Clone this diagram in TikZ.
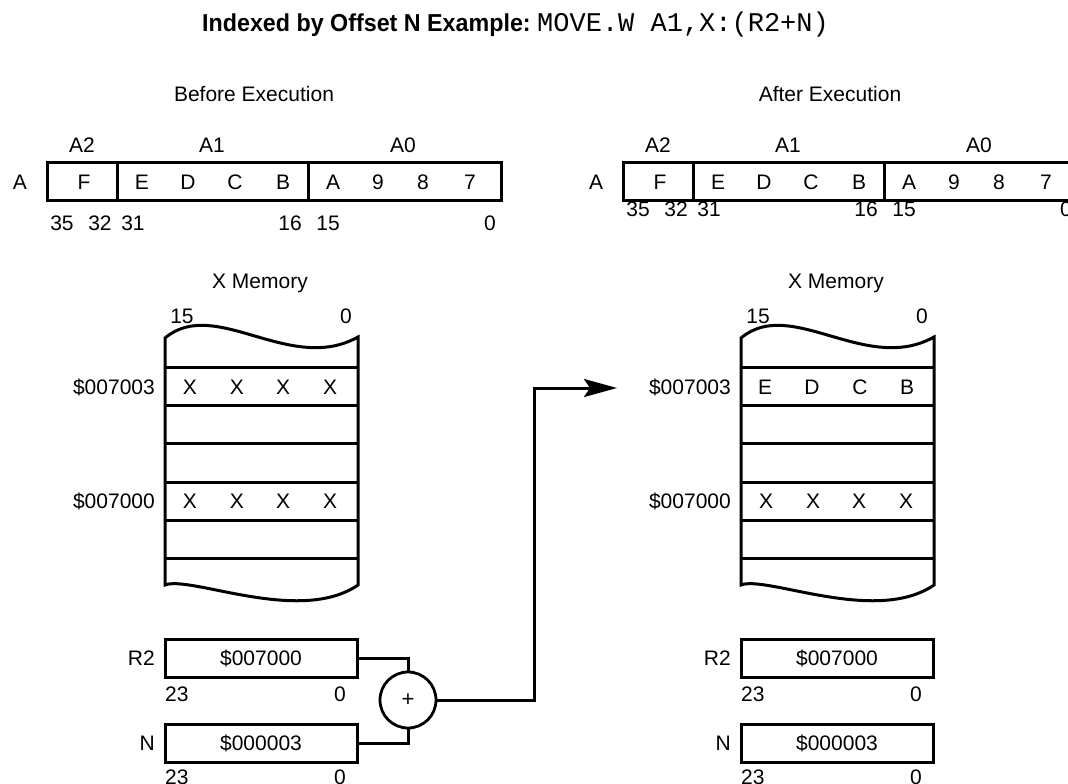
\documentclass[tikz,border=0pt]{standalone}
\usepackage{fontspec}
\setmainfont{Liberation Sans}
\newfontfamily\titlefont[FakeStretch=0.95]{Liberation Sans}
\newfontfamily\codefont{Liberation Mono}
\usetikzlibrary{arrows.meta}
\begin{document}
\begin{tikzpicture}[x=1pt,y=-1pt,
  lbl/.style={inner sep=0pt, font=\fontsize{21}{25}\selectfont},
  ln/.style={line width=3pt},
  regbox/.style={draw, line width=3pt, inner sep=0pt, minimum width=192pt, minimum height=38pt, font=\fontsize{21}{25}\selectfont},
  sumnode/.style={draw, circle, line width=2.8pt, minimum size=56pt, inner sep=0pt, font=\fontsize{22}{24}\selectfont},
  wire/.style={line width=3pt},
  arr/.style={line width=3pt, -{Stealth[length=33pt, width=18pt, inset=6pt]}}]
\path[use as bounding box] (0,0) rectangle (1068,784);
\clip (0,0) rectangle (1068,784);
% title
\node[inner sep=0pt, anchor=base west, font=\titlefont\bfseries\fontsize{24.5}{28}\selectfont] (title) at (202,32) {Indexed by Offset N Example:};
\node[inner sep=0pt, anchor=base west, font=\codefont\fontsize{27}{30}\selectfont] (code) at (537,32) {MOVE.W A1,X:(R2+N)};
\node[lbl] (before) at (254,94) {Before Execution};
\node[lbl] (after) at (830,94) {After Execution};

% ---------- registers, memories, R2 and N ----------
\foreach \dx/\by/\s in {0/223/L, 576/209/R}{
  \begin{scope}[xshift=\dx pt]
    \draw[ln] (47,162) rectangle (501,200);
    \draw[ln] (117,162) -- (117,200);
    \draw[ln] (308,162) -- (308,200);
    \node[lbl] (rA2\s) at (82,145) {A2};
    \node[lbl] (rA1\s) at (212,145) {A1};
    \node[lbl] (rA0\s) at (403,145) {A0};
    \node[lbl] (rA\s) at (20,182) {A};
    \foreach \t/\xx [count=\i] in {F/84,E/142,D/188,C/235,B/283,A/333,9/378,8/423,7/470}
      \node[lbl] (c\i\s) at (\xx,182) {\t};
    \foreach \t/\xx [count=\i] in {35/62,32/100,31/133,16/290,15/328,0/490}
      \node[lbl] (b\i\s) at (\xx,\by) {\t};
    % memory
    \node[lbl] (xm\s) at (260,283) {X Memory};
    \node[lbl] (m15\s) at (182,316) {15};
    \node[lbl] (m0\s) at (346,316) {0};
    \draw[ln] (165,338) .. controls (215,296) and (290,375) .. (358,337)
      -- (358,585) .. controls (300,625) and (190,575) .. (165,585) -- cycle;
    \foreach \yy in {367,405,443,482,520,558}
      \draw[ln] (165,\yy) -- (358,\yy);
    \node[lbl, anchor=east] (ad3\s) at (155,387) {\$007003};
    \node[lbl, anchor=east] (ad0\s) at (155,501) {\$007000};
    \foreach \t/\xx [count=\i] in {X/190,X/237,X/283,X/330}
      \node[lbl] (lo\i\s) at (\xx,501) {\t};
    % R2 and N
    \node[regbox] (r2\s) at (261,658) {\$007000};
    \node[regbox] (n\s) at (261,743) {\$000003};
    \node[lbl, anchor=east] (r2lab\s) at (155,658) {R2};
    \node[lbl, anchor=east] (nlab\s) at (155,743) {N};
    \node[lbl, anchor=west] (r2hi\s) at (165,694) {23};
    \node[lbl] (r2lo\s) at (340,694) {0};
    \node[lbl, anchor=west] (nhi\s) at (165,777) {23};
    \node[lbl] (nlo\s) at (340,777) {0};
  \end{scope}
}
% memory row contents at $007003
\foreach \t/\xx [count=\i] in {X/190,X/237,X/283,X/330}
  \node[lbl] (hiL\i) at (\xx,387) {\t};
\foreach \t/\xx [count=\i] in {E/765,D/812,C/860,B/907}
  \node[lbl] (hiR\i) at (\xx,387) {\t};

% adder
\node[sumnode] (plus) at (408,700) {+};
\draw[wire] (r2L.east) -| (plus.north);
\draw[wire] (nL.east) -| (plus.south);
\coordinate (bend) at (534,388);
\coordinate (tip) at (617,388);
\draw[arr] (plus.east) -| (bend) -- (tip);
\end{tikzpicture}
\end{document}
